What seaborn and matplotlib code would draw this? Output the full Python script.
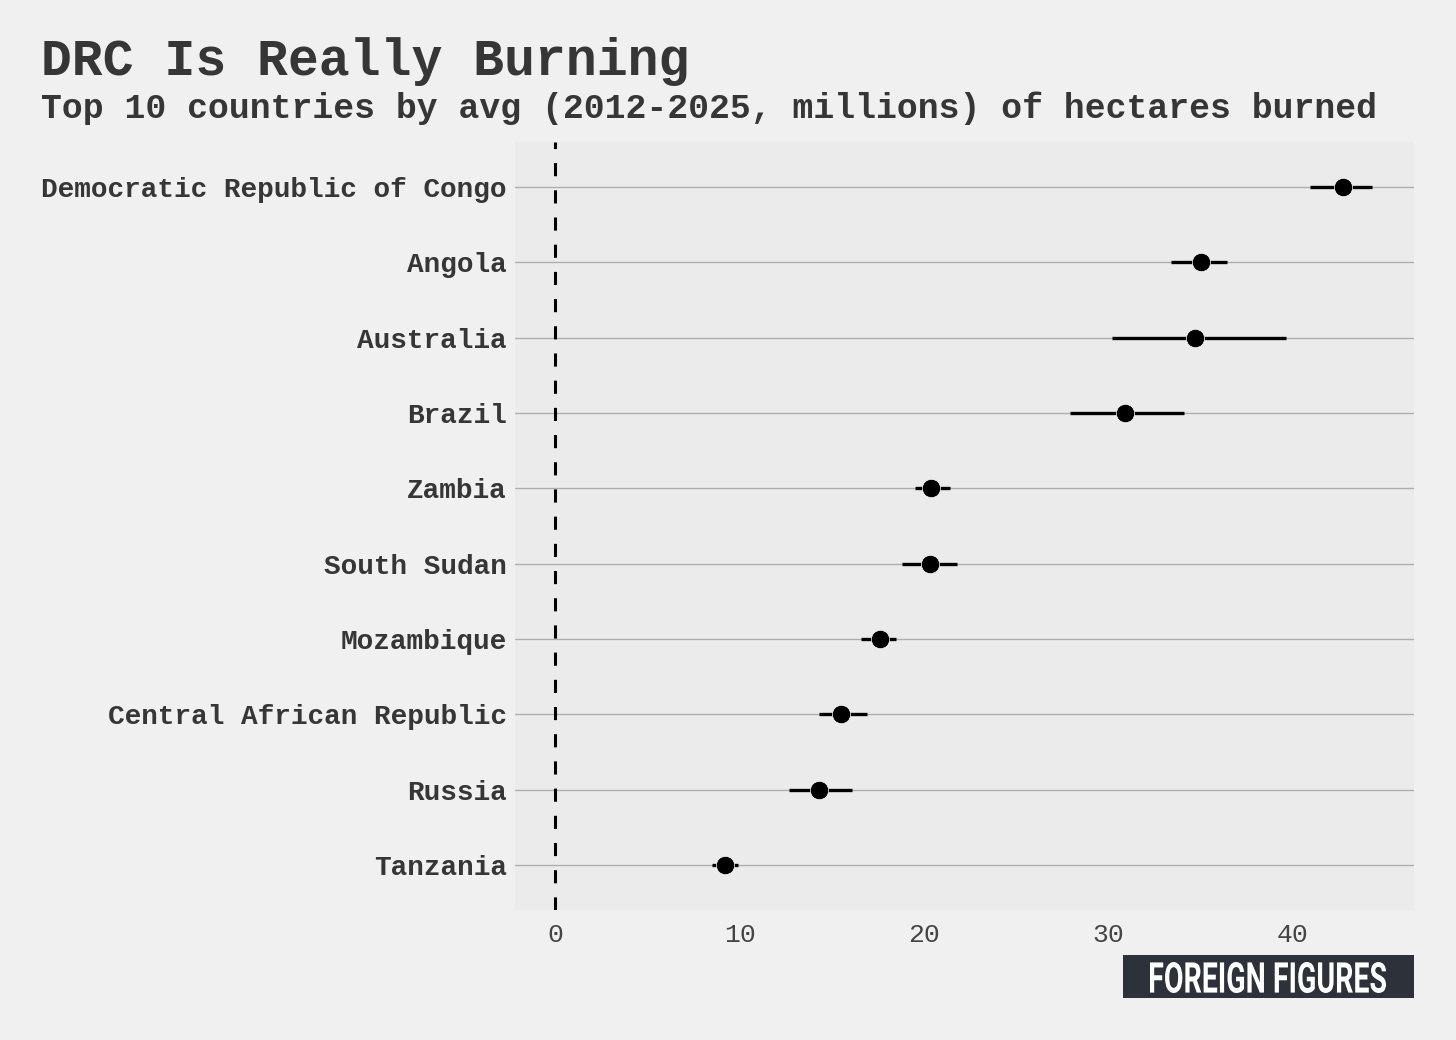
import numpy as np
import pandas as pd
import matplotlib
matplotlib.use("Agg")
import matplotlib.pyplot as plt
import seaborn as sns
from matplotlib.patches import Rectangle, PathPatch
from matplotlib.textpath import TextPath
from matplotlib.font_manager import FontProperties
from matplotlib.transforms import Affine2D, IdentityTransform

# -------------------------------------------------------------------
# Data: avg hectares burned (millions), with interval ends
# -------------------------------------------------------------------
countries = [
    "Democratic Republic of Congo", "Angola", "Australia", "Brazil",
    "Zambia", "South Sudan", "Mozambique", "Central African Republic",
    "Russia", "Tanzania",
]
avg_burned = [42.7, 35.0, 34.7, 30.9, 20.4, 20.3, 17.6, 15.5, 14.3, 9.2]
low_burned = [40.9, 33.4, 30.2, 27.9, 19.5, 18.8, 16.6, 14.3, 12.7, 8.5]
high_burned = [44.3, 36.4, 39.6, 34.1, 21.4, 21.8, 18.5, 16.9, 16.1, 9.9]
x_ticks = [0, 10, 20, 30, 40]

df = pd.DataFrame({
    "country": countries,
    "avg": avg_burned,
    "low": low_burned,
    "high": high_burned,
})

FIG_BG = "#f0f0f0"
PANEL_BG = "#ebebeb"
TEXT = "#363636"
MONO = ["Liberation Mono", "DejaVu Sans Mono"]

sns.set_theme(style="white")
plt.rcParams["font.family"] = MONO

fig = plt.figure(figsize=(14.56, 10.4), dpi=100, facecolor=FIG_BG)
ax = fig.add_axes([515 / 1456, 1 - 910 / 1040, (1414 - 515) / 1456, (910 - 142) / 1040])
ax.set_facecolor(PANEL_BG)

# grid rows first so marks sit on top
for i in range(len(countries)):
    ax.axhline(i, color="#aeaeae", lw=1.0, zorder=0)

ax.axvline(0, color="black", lw=2.2, ls=(0, (4.3, 4.6)), zorder=1)

ax.hlines(y=df["country"], xmin=df["low"], xmax=df["high"],
          color="black", lw=2.4, zorder=2)
sns.scatterplot(data=df, x="avg", y="country", ax=ax, color="black",
                s=175, edgecolor="white", linewidth=0.5, zorder=3, legend=False)

ax.set_xlim(-2.17, 46.56)
ax.set_ylim(len(countries) - 0.4, -0.6)
ax.set_xticks(x_ticks)
ax.set_xticklabels([str(t) for t in x_ticks], fontsize=19, color="#444444")
ax.set_yticks(range(len(countries)))
ax.set_yticklabels(countries, fontsize=20, fontweight="bold", color=TEXT)
ax.tick_params(axis="both", length=0)
ax.tick_params(axis="y", pad=6)
ax.tick_params(axis="x", pad=9)
ax.set_xlabel("")
ax.set_ylabel("")
for sp in ax.spines.values():
    sp.set_visible(False)

# titles
fig.text(41 / 1456, 1 - 75 / 1040, "DRC Is Really Burning", fontsize=37,
         fontweight="bold", color=TEXT, ha="left", va="baseline")
fig.text(41 / 1456, 1 - 118 / 1040,
         "Top 10 countries by avg (2012-2025, millions) of hectares burned",
         fontsize=25, fontweight="bold", color=TEXT, ha="left", va="baseline")

# logo box with condensed lettering (pixel coordinates, origin bottom-left)
fig.patches.append(Rectangle((1123 / 1456, 1 - 998 / 1040), (1414 - 1123) / 1456,
                             43 / 1040, transform=fig.transFigure,
                             facecolor="#2d3139", edgecolor="none"))
logo = TextPath((0, 0), "FOREIGN FIGURES", size=40,
                prop=FontProperties(family="Roboto", weight="bold"))
ext = logo.get_extents()
sx = 236 / ext.width
sy = 31 / ext.height
tr = Affine2D().translate(-ext.x0, -ext.y0).scale(sx, sy).translate(1150, 1040 - 993)
logo = tr.transform_path(logo)
fig.patches.append(PathPatch(logo, transform=IdentityTransform(),
                             facecolor="white", edgecolor="none"))

fig.savefig("out.png", dpi=100, facecolor=FIG_BG)
plt.close(fig)
